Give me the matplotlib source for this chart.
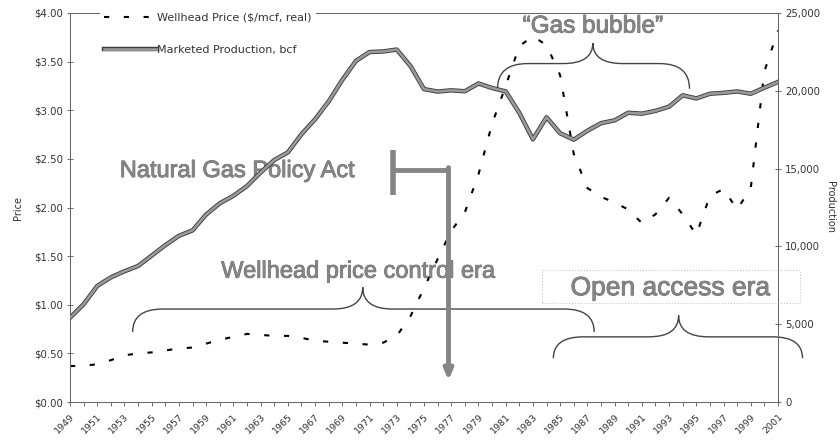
import matplotlib
matplotlib.use('Agg')
import matplotlib.pyplot as plt
import matplotlib.patheffects as pe
from matplotlib.path import Path
from matplotlib.patches import PathPatch, Rectangle

plt.rcParams['font.family'] = ['DejaVu Sans']

# Datos (1949-2001)
anios = list(range(1949, 2002))
precio = [0.37, 0.37, 0.39, 0.43, 0.48, 0.50, 0.51, 0.53, 0.55, 0.56,
          0.60, 0.64, 0.67, 0.70, 0.69, 0.68, 0.68, 0.66, 0.63, 0.62,
          0.61, 0.60, 0.59, 0.61, 0.68, 0.88, 1.17, 1.47, 1.76, 1.95,
          2.34, 2.86, 3.25, 3.66, 3.76, 3.67, 3.36, 2.55, 2.20, 2.11,
          2.05, 1.98, 1.84, 1.93, 2.10, 1.93, 1.72, 2.12, 2.19, 1.98,
          2.20, 3.40, 3.82]
produccion = [5420, 6280, 7460, 8010, 8400, 8740, 9410, 10080, 10680, 11030,
              12050, 12770, 13250, 13880, 14750, 15550, 16040, 17210, 18170, 19320,
              20700, 21920, 22490, 22530, 22650, 21600, 20110, 19950, 20030, 19970,
              20470, 20180, 19960, 18580, 16880, 18300, 17270, 16860, 17430, 17920,
              18100, 18590, 18530, 18710, 18980, 19710, 19510, 19810, 19870, 19960,
              19810, 20200, 20570]

ticks_precio = [0, 0.5, 1.0, 1.5, 2.0, 2.5, 3.0, 3.5, 4.0]
ticks_prod = [0, 5000, 10000, 15000, 20000, 25000]

gris_txt = '#333333'
gris_anot = '#858585'
fuente_anot = ['Liberation Sans', 'DejaVu Sans']
borde_anot = [pe.withStroke(linewidth=0.6, foreground='#6a6a6a')]


def llave(ax, x0, x1, xm, y_end, y_flat, y_tip, rx=2.2):
    # llave horizontal (curly brace) en coordenadas de datos
    verts = [(x0, y_end), (x0, y_flat), (x0 + rx, y_flat), (xm - rx, y_flat),
             (xm, y_flat), (xm, y_tip), (xm, y_flat), (xm + rx, y_flat),
             (x1 - rx, y_flat), (x1, y_flat), (x1, y_end)]
    codes = [Path.MOVETO, Path.CURVE3, Path.CURVE3, Path.LINETO,
             Path.CURVE3, Path.CURVE3, Path.CURVE3, Path.CURVE3,
             Path.LINETO, Path.CURVE3, Path.CURVE3]
    p = PathPatch(Path(verts, codes), fc='none', ec='#444444', lw=1.0,
                  clip_on=False, zorder=4)
    ax.add_patch(p)


fig = plt.figure(figsize=(8.4, 4.41), dpi=100)
ax = fig.add_axes([70/840, 1 - 402/441, 708/840, 389/441])
ax2 = ax.twinx()

# Precio (eje izquierdo)
l1, = ax.plot(anios, precio, color='black', lw=1.5, dashes=(2.5, 7),
              label='Wellhead Price ($/mcf, real)', zorder=3)

# Produccion (eje derecho)
l2, = ax2.plot(anios, produccion, color='#9a9a9a', lw=1.9,
               label='Marketed Production, bcf', zorder=3,
               path_effects=[pe.Stroke(linewidth=3.2, foreground='#3c3c3c'), pe.Normal()])

ax.set_xlim(1949, 2001)
ax.set_ylim(0, 4)
ax2.set_ylim(0, 25000)

ax.set_yticks(ticks_precio)
ax.set_yticklabels([f'${v:.2f}' for v in ticks_precio], fontsize=7.3, color=gris_txt)
ax2.set_yticks(ticks_prod)
ax2.set_yticklabels([f'{v:,}' for v in ticks_prod], fontsize=7.3, color=gris_txt)

ax.set_xticks(anios[::2])
ax.set_xticks(anios[1::2], minor=True)
ax.set_xticklabels([str(a) for a in anios[::2]], rotation=45, ha='right',
                   rotation_mode='anchor', fontsize=6.8, color=gris_txt)
ax.tick_params(axis='x', which='both', length=3, width=0.6, color='#555555', pad=4)
ax.tick_params(axis='y', length=4, width=0.6, color='#555555', direction='inout', pad=3)
ax2.tick_params(axis='y', length=4, width=0.6, color='#555555', direction='inout', pad=3)

for a in (ax, ax2):
    for s in a.spines.values():
        s.set_color('#666666')
        s.set_linewidth(0.7)

fig.text(18/840, 1 - 208/441, 'Price', rotation=90, fontsize=7,
         color=gris_txt, ha='center', va='center')
fig.text(830/840, 1 - 207/441, 'Production', rotation=270, fontsize=7,
         color=gris_txt, ha='center', va='center')

# Leyenda
leg = ax2.legend(handles=[l1, l2], loc='upper left',
                 bbox_to_anchor=(100/840, 1 - 8/441), bbox_transform=fig.transFigure,
                 fontsize=8, frameon=True, framealpha=1, edgecolor='none',
                 facecolor='white', handlelength=4.7, labelspacing=2.0,
                 borderpad=0.4, borderaxespad=0, handletextpad=0.05)
for t in leg.get_texts():
    t.set_color(gris_txt)

# Anotaciones
ax.text(1961.3, 2.375, 'Natural Gas Policy Act', fontsize=17, family=fuente_anot,
        color=gris_anot, ha='center', va='center', zorder=5, path_effects=borde_anot)
ax.text(1970.2, 1.34, 'Wellhead price control era', fontsize=17, family=fuente_anot,
        color=gris_anot, ha='center', va='center', zorder=5, path_effects=borde_anot)
ax.text(1987.4, 3.86, '\u201cGas bubble\u201d', fontsize=17.5, family=fuente_anot,
        color=gris_anot, ha='center', va='center', zorder=5, path_effects=borde_anot)
ax.text(1993.1, 1.17, 'Open access era', fontsize=19, family=fuente_anot,
        color=gris_anot, ha='center', va='center', zorder=5, path_effects=borde_anot)
# recuadro punteado alrededor del texto
ax.add_patch(Rectangle((1983.7, 1.02), 18.9, 0.34, fc='none', ec='#c8c8c8',
                       ls=':', lw=0.8, clip_on=False, zorder=4))

llave(ax, 1953.6, 1987.5, 1970.5, 0.72, 0.956, 1.18)
llave(ax, 1980.4, 1994.5, 1987.4, 3.22, 3.48, 3.69)
llave(ax, 1984.5, 2002.8, 1993.7, 0.45, 0.67, 0.89)

# Flecha de la NGPA
ax.plot([1972.7, 1972.7], [2.13, 2.59], color=gris_anot, lw=4, solid_capstyle='butt', zorder=5)
ax.plot([1972.7, 1976.8], [2.39, 2.39], color=gris_anot, lw=3.5, solid_capstyle='butt', zorder=5)
ax.annotate('', xy=(1976.8, 0.22), xytext=(1976.8, 2.41),
            arrowprops=dict(arrowstyle='-|>,head_width=0.25,head_length=0.6',
                            color=gris_anot, lw=3.5, shrinkA=0, shrinkB=0), zorder=5)

fig.savefig('out.png', dpi=100)
